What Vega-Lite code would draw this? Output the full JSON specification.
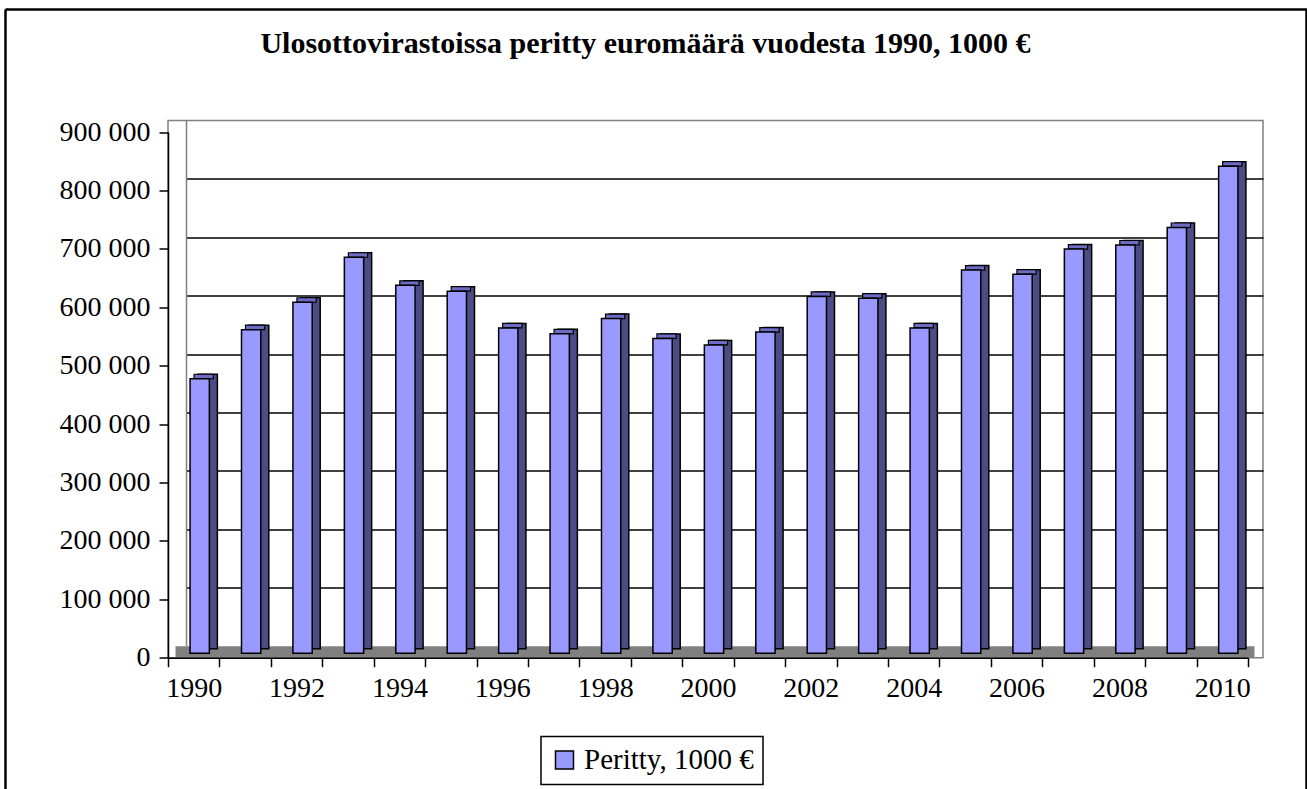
{
  "$schema": "https://vega.github.io/schema/vega-lite/v6.json",
  "width": 1095,
  "height": 537.2,
  "autosize": "none",
  "padding": {"left": 168, "top": 120.5, "right": 44, "bottom": 131.3},
  "background": "white",
  "title": {
    "text": "Ulosottovirastoissa peritty euromäärä vuodesta 1990, 1000 €",
    "font": "Liberation Serif",
    "fontSize": 30,
    "fontWeight": "bold",
    "color": "black",
    "anchor": "middle",
    "dx": -70,
    "offset": -50
  },
  "data": {
    "values": [
      {"year": 1990, "value": 470000, "series": "Peritty, 1000 €"},
      {"year": 1991, "value": 554000, "series": "Peritty, 1000 €"},
      {"year": 1992, "value": 601000, "series": "Peritty, 1000 €"},
      {"year": 1993, "value": 678000, "series": "Peritty, 1000 €"},
      {"year": 1994, "value": 630000, "series": "Peritty, 1000 €"},
      {"year": 1995, "value": 620000, "series": "Peritty, 1000 €"},
      {"year": 1996, "value": 557000, "series": "Peritty, 1000 €"},
      {"year": 1997, "value": 547000, "series": "Peritty, 1000 €"},
      {"year": 1998, "value": 573000, "series": "Peritty, 1000 €"},
      {"year": 1999, "value": 539000, "series": "Peritty, 1000 €"},
      {"year": 2000, "value": 528000, "series": "Peritty, 1000 €"},
      {"year": 2001, "value": 550000, "series": "Peritty, 1000 €"},
      {"year": 2002, "value": 611000, "series": "Peritty, 1000 €"},
      {"year": 2003, "value": 608000, "series": "Peritty, 1000 €"},
      {"year": 2004, "value": 557000, "series": "Peritty, 1000 €"},
      {"year": 2005, "value": 656000, "series": "Peritty, 1000 €"},
      {"year": 2006, "value": 649000, "series": "Peritty, 1000 €"},
      {"year": 2007, "value": 692000, "series": "Peritty, 1000 €"},
      {"year": 2008, "value": 699000, "series": "Peritty, 1000 €"},
      {"year": 2009, "value": 729000, "series": "Peritty, 1000 €"},
      {"year": 2010, "value": 834000, "series": "Peritty, 1000 €"}
    ]
  },
  "layer": [
    {
      "mark": {"type": "point", "opacity": 0},
      "encoding": {
        "x": {"field": "year", "type": "ordinal", "scale": {"range": [18, 1095], "paddingInner": 0, "paddingOuter": 0}, "axis": null},
        "y": {
          "field": "value",
          "type": "quantitative",
          "scale": {"domain": [0, 900000], "range": [525.7, 0], "nice": false, "zero": true},
          "axis": {
            "orient": "left",
            "offset": -18,
            "title": null,
            "labels": false,
            "ticks": false,
            "domain": true,
            "domainColor": "#808080",
            "domainWidth": 1.5,
            "grid": true,
            "gridColor": "black",
            "gridWidth": 1.5,
            "values": [100000, 200000, 300000, 400000, 500000, 600000, 700000, 800000]
          }
        }
      }
    },
    {
      "mark": {"type": "point", "opacity": 0},
      "encoding": {
        "x": {"field": "year", "type": "ordinal", "scale": {"range": [9, 1088], "paddingInner": 0, "paddingOuter": 0}, "axis": null},
        "y": {
          "field": "value",
          "type": "quantitative",
          "scale": {"domain": [0, 900000], "range": [531.45, 5.75], "nice": false, "zero": true},
          "axis": {
            "orient": "right",
            "title": null,
            "labels": false,
            "ticks": false,
            "domain": false,
            "grid": true,
            "gridColor": "#808080",
            "gridWidth": 11.5,
            "values": [0]
          }
        }
      }
    },
    {
      "mark": {"type": "point", "opacity": 0},
      "encoding": {
        "x": {"field": "year", "type": "ordinal", "axis": null},
        "y": {
          "field": "value",
          "type": "quantitative",
          "scale": {"domain": [0, 900000], "range": [537.2, 11.5], "nice": false, "zero": true},
          "axis": {
            "orient": "left",
            "zindex": 2,
            "title": null,
            "grid": false,
            "domainColor": "black",
            "domainWidth": 1.5,
            "tickColor": "black",
            "tickWidth": 1.5,
            "tickSize": 9,
            "labelFont": "Liberation Serif",
            "labelFontSize": 28,
            "labelColor": "black",
            "labelPadding": 9,
            "values": [0, 100000, 200000, 300000, 400000, 500000, 600000, 700000, 800000, 900000],
            "labelExpr": "replace(format(datum.value, ',d'), ',', ' ')"
          }
        }
      }
    },
    {
      "mark": {"type": "point", "opacity": 0},
      "encoding": {
        "x": {
          "field": "year", "type": "ordinal",
          "scale": {"range": [-163, 1140], "paddingInner": 0, "paddingOuter": 0},
          "axis": {"orient": "top", "offset": 111.5, "title": null, "labels": false, "ticks": false, "grid": false, "domain": true, "domainColor": "black", "domainWidth": 2.5}
        },
        "y": {
          "field": "value",
          "type": "quantitative",
          "scale": {"domain": [0, 900000], "range": [690, -111.5], "nice": false, "zero": true},
          "axis": {"orient": "left", "offset": 163, "title": null, "labels": false, "ticks": false, "grid": false, "domain": true, "domainColor": "black", "domainWidth": 2.5}
        }
      }
    },
    {
      "mark": {"type": "point", "opacity": 0},
      "encoding": {
        "x": {"field": "year", "type": "ordinal", "axis": null},
        "y": {
          "field": "value",
          "type": "quantitative",
          "scale": {"domain": [0, 900000], "range": [690, -111.5], "nice": false, "zero": true},
          "axis": {"orient": "right", "offset": 43, "title": null, "labels": false, "ticks": false, "grid": false, "domain": true, "domainColor": "black", "domainWidth": 2.5}
        }
      }
    },
    {
      "encoding": {
        "x": {
          "field": "year",
          "type": "ordinal",
          "scale": {"range": [0, 1080], "paddingInner": 0, "paddingOuter": 0},
          "axis": {
            "title": null,
            "orient": "bottom",
            "zindex": 2,
            "domainColor": "black",
            "domainWidth": 1.5,
            "tickColor": "black",
            "tickWidth": 1.5,
            "tickSize": 9,
            "tickBand": "extent",
            "labelAngle": 0,
            "labelFont": "Liberation Serif",
            "labelFontSize": 28,
            "labelColor": "black",
            "labelPadding": 8,
            "labelOverlap": false,
            "labelExpr": "datum.value % 2 == 0 ? datum.label : ''"
          }
        }
      },
      "layer": [
        {
          "mark": {"type": "bar", "width": {"band": 0.375}, "xOffset": 14, "yOffset": -4.5, "y2Offset": -4.5, "fill": "#4D4D85", "stroke": "black", "strokeWidth": 1.5},
          "encoding": {
            "y": {"field": "value", "type": "quantitative", "scale": {"domain": [0, 900000], "range": [532.8, 7.1], "nice": false, "zero": true}, "axis": null}
          }
        },
        {
          "mark": {"type": "bar", "width": {"band": 0.375}, "xOffset": 10, "yOffset": -4.5, "y2Offset": 0, "fill": "#6C6CC4", "stroke": "black", "strokeWidth": 1.2},
          "encoding": {
            "y": {"field": "value", "type": "quantitative", "axis": null},
            "y2": {"field": "value"}
          }
        },
        {
          "mark": {"type": "bar", "width": {"band": 0.375}, "xOffset": 6, "stroke": "black", "strokeWidth": 1.5},
          "encoding": {
            "y": {"field": "value", "type": "quantitative", "axis": null},
            "color": {
              "field": "series",
              "type": "nominal",
              "scale": {"range": ["#9999FF"]},
              "legend": {
                "title": null,
                "orient": "none",
                "legendX": 373,
                "legendY": 616,
                "direction": "vertical",
                "strokeColor": "black",
                "fillColor": "white",
                "padding": 9,
                "symbolType": "square",
                "symbolSize": 324,
                "symbolStrokeColor": "black",
                "symbolStrokeWidth": 1.5,
                "symbolOpacity": 1,
                "labelFont": "Liberation Serif",
                "labelFontSize": 29,
                "labelColor": "black",
                "labelOffset": 5,
                "labelLimit": 500,
                "encode": {"legend": {"update": {"strokeWidth": {"value": 1.5}}}}
              }
            }
          }
        }
      ]
    }
  ],
  "resolve": {"scale": {"y": "independent", "x": "independent"}, "axis": {"y": "independent", "x": "independent"}},
  "config": {
    "view": {"stroke": "#808080", "strokeWidth": 1.5}
  }
}
